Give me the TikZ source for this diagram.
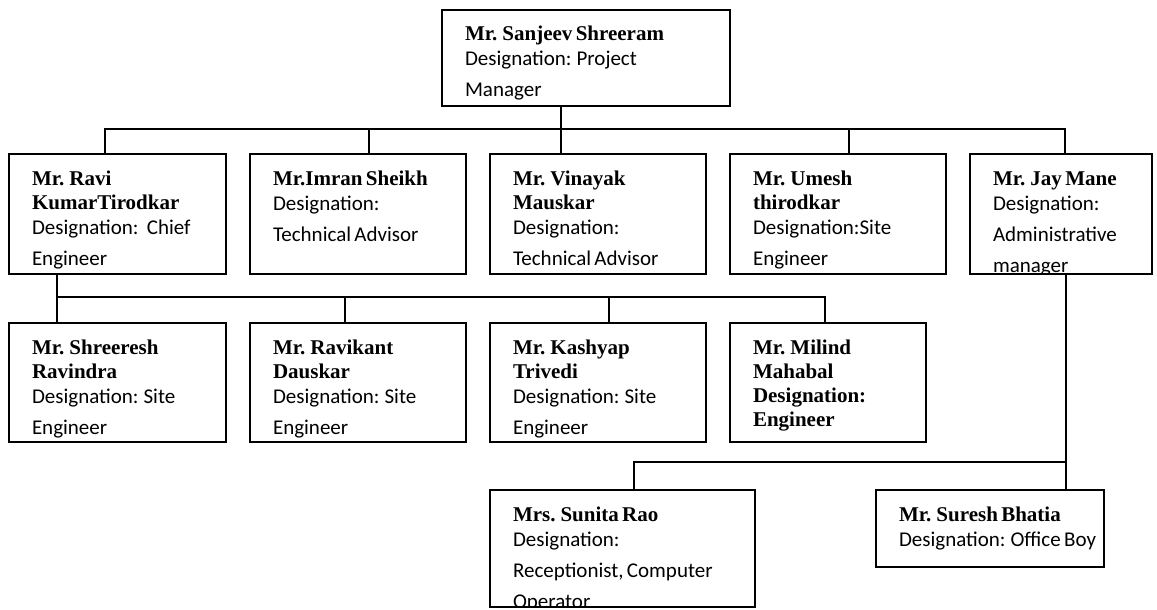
\documentclass[tikz,border=0pt]{standalone}
\usepackage{fontspec}
\setmainfont{Carlito}
\newfontfamily\namefont{Liberation Serif}
\usepackage{tikz}
\newcommand{\who}[2]{{\namefont\bfseries\fontsize{21}{24}\selectfont #1\par}\vspace{-6pt}{\fontsize{21}{31}\selectfont #2\par}}
\tikzset{
    org-box/.style = {draw, line width=2pt, rectangle, anchor=north west, inner sep=0pt},
    org-card/.style = {path picture={\node[anchor=base west, inner sep=0pt, text width=320pt, align=left] at ([shift={(22,31)}]path picture bounding box.north west) {#1};}},
    link/.style = {line width=2pt},
}

\begin{document}
\begin{tikzpicture}[x=1pt,y=-1pt]
\useasboundingbox (0,0) rectangle (1157,610);

\node[org-box, minimum width=288pt, minimum height=96pt, org-card={\who{Mr. Sanjeev Shreeram}{Designation: Project\\Manager}}] (pm) at (441,9) {};

\node[org-box, minimum width=217pt, minimum height=120pt, org-card={\who{Mr. Ravi\\KumarTirodkar}{Designation:~ Chief\\Engineer}}] (ravi) at (8,153) {};
\node[org-box, minimum width=216pt, minimum height=120pt, org-card={\who{Mr.Imran Sheikh}{Designation:\\Technical Advisor}}] (imran) at (249,153) {};
\node[org-box, minimum width=216pt, minimum height=120pt, org-card={\who{Mr. Vinayak\\Mauskar}{Designation:\\Technical Advisor}}] (vinayak) at (489,153) {};
\node[org-box, minimum width=216pt, minimum height=120pt, org-card={\who{Mr. Umesh\\thirodkar}{Designation:Site\\Engineer}}] (umesh) at (729,153) {};
\node[org-box, minimum width=182pt, minimum height=120pt, org-card={\who{Mr. Jay Mane}{Designation:\\Administrative\\manager}}] (jay) at (969,153) {};

\node[org-box, minimum width=217pt, minimum height=119pt, org-card={\who{Mr. Shreeresh\\Ravindra}{Designation: Site\\Engineer}}] (shreeresh) at (8,322) {};
\node[org-box, minimum width=216pt, minimum height=119pt, org-card={\who{Mr. Ravikant\\Dauskar}{Designation: Site\\Engineer}}] (ravikant) at (249,322) {};
\node[org-box, minimum width=216pt, minimum height=119pt, org-card={\who{Mr. Kashyap\\Trivedi}{Designation: Site\\Engineer}}] (kashyap) at (489,322) {};
\node[org-box, minimum width=196pt, minimum height=119pt, org-card={\who{Mr. Milind\\Mahabal\\Designation:\\Engineer}{}}] (milind) at (729,322) {};

\node[org-box, minimum width=265pt, minimum height=117pt, org-card={\who{Mrs. Sunita Rao}{Designation:\\Receptionist, Computer\\Operator}}] (sunita) at (489,489) {};
\node[org-box, minimum width=228pt, minimum height=77pt, org-card={\who{Mr. Suresh Bhatia}{Designation: Office Boy}}] (suresh) at (875,489) {};

% top level
\draw[link] (561,129 |- pm.south) -- (561,129 |- vinayak.north);
\draw[link] (105,129 |- ravi.north) -- (105,129) -- (1065,129) -- (1065,129 |- jay.north);
\foreach \x/\n in {369/imran, 849/umesh}
    \draw[link] (\x,129) -- (\x,129 |- \n.north);

% under the chief engineer
\draw[link] (57,297 |- ravi.south) -- (57,297 |- shreeresh.north);
\draw[link] (57,297) -- (825,297) -- (825,297 |- milind.north);
\foreach \x/\n in {345/ravikant, 609/kashyap}
    \draw[link] (\x,297) -- (\x,297 |- \n.north);

% under the administrative manager
\draw[link] (1066,462 |- jay.south) -- (1066,462 |- suresh.north);
\draw[link] (1066,462) -- (634,462) -- (634,462 |- sunita.north);
\end{tikzpicture}
\end{document}
